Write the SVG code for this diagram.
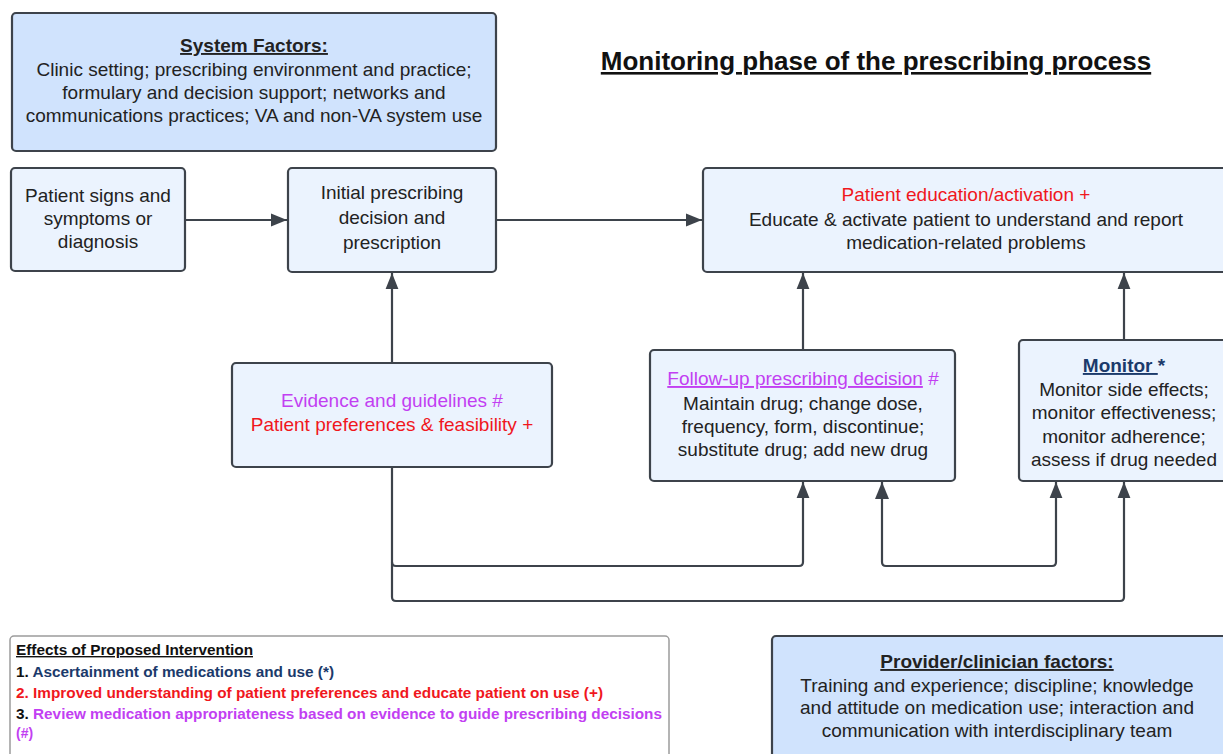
<svg xmlns="http://www.w3.org/2000/svg" width="1223" height="754" viewBox="0 0 1223 754">
<defs>
<style>
.t{font-family:"Liberation Sans",Arial,sans-serif;font-size:19px;fill:#222;text-anchor:middle}
.b{font-weight:bold}
.u{text-decoration:underline}
.red{fill:#f0171d}
.pur{fill:#c23ff2}
.navy{fill:#1b3a6b}
.node{fill:#ebf3fe;stroke:#3d434b;stroke-width:2.2}
.fac{fill:#d0e3fd;stroke:#3d434b;stroke-width:2.2}
.conn{fill:none;stroke:#3d434b;stroke-width:2.2;stroke-linejoin:round}
.leg{font-family:"Liberation Sans",Arial,sans-serif;font-size:14px;font-weight:bold}
</style>
<marker id="ahL" viewBox="0 0 10 10" refX="10" refY="5" markerWidth="16" markerHeight="16" markerUnits="userSpaceOnUse" orient="auto">
<path d="M0,1 L10,5 L0,9 z" fill="#3d434b"/>
</marker>
</defs>
<rect width="1223" height="754" fill="#fff"/>

<text x="876" y="70" class="t b u" style="font-size:26px;fill:#111">Monitoring phase of the prescribing process</text>

<g id="connectors">
<path class="conn" d="M185,220 H287" marker-end="url(#ahL)"/>
<path class="conn" d="M496,220 H702" marker-end="url(#ahL)"/>
<path class="conn" d="M392,363 V273" marker-end="url(#ahL)"/>
<path class="conn" d="M803,350 V273" marker-end="url(#ahL)"/>
<path class="conn" d="M1124,340 V273" marker-end="url(#ahL)"/>
<path class="conn" d="M392,467 V562 Q392,566 396,566 H799 Q803,566 803,562 V482" marker-end="url(#ahL)"/>
<path class="conn" d="M392,562 V597 Q392,601 396,601 H1120 Q1124,601 1124,597 V482" marker-end="url(#ahL)"/>
<path class="conn" d="M882,482 V562 Q882,566 886,566 H1052 Q1056,566 1056,562 V482" marker-end="url(#ahL)"/>
<path d="M875,499 L882,482 L889,499 z" fill="#3d434b"/>
</g>

<g id="system-factors">
<rect class="fac" x="12" y="13" width="484" height="138" rx="4"/>
<text x="254" y="52" class="t b u">System Factors:</text>
<text x="254" y="76" class="t">Clinic setting; prescribing environment and practice;</text>
<text x="254" y="99" class="t">formulary and decision support; networks and</text>
<text x="254" y="122" class="t">communications practices; VA and non-VA system use</text>
</g>

<g id="patient-signs">
<rect class="node" x="11" y="168" width="174" height="103" rx="4"/>
<text x="98" y="202" class="t">Patient signs and</text>
<text x="98" y="225" class="t">symptoms or</text>
<text x="98" y="248" class="t">diagnosis</text>
</g>

<g id="initial-prescribing">
<rect class="node" x="288" y="168" width="208" height="104" rx="4"/>
<text x="392" y="199" class="t">Initial prescribing</text>
<text x="392" y="224" class="t">decision and</text>
<text x="392" y="249" class="t">prescription</text>
</g>

<g id="patient-education">
<rect class="node" x="703" y="168" width="530" height="104" rx="4"/>
<text x="966" y="201" class="t red">Patient education/activation +</text>
<text x="966" y="226" class="t">Educate &amp; activate patient to understand and report</text>
<text x="966" y="249" class="t">medication-related problems</text>
</g>

<g id="evidence">
<rect class="node" x="232" y="363" width="320" height="104" rx="4"/>
<text x="392" y="407" class="t pur">Evidence and guidelines #</text>
<text x="392" y="431" class="t red">Patient preferences &amp; feasibility +</text>
</g>

<g id="follow-up">
<rect class="node" x="650" y="350" width="305" height="131" rx="4"/>
<text x="803" y="385" class="t"><tspan class="pur u">Follow-up prescribing decision</tspan><tspan class="pur"> #</tspan></text>
<text x="803" y="410" class="t">Maintain drug; change dose,</text>
<text x="803" y="433" class="t">frequency, form, discontinue;</text>
<text x="803" y="456" class="t">substitute drug; add new drug</text>
</g>

<g id="monitor">
<rect class="node" x="1019" y="340" width="214" height="141" rx="4"/>
<text x="1124" y="372" class="t"><tspan class="b u navy">Monitor </tspan><tspan class="b navy">*</tspan></text>
<text x="1124" y="396" class="t">Monitor side effects;</text>
<text x="1124" y="419" class="t">monitor effectiveness;</text>
<text x="1124" y="443" class="t">monitor adherence;</text>
<text x="1124" y="466" class="t">assess if drug needed</text>
</g>

<g id="effects-legend">
<rect x="10" y="636" width="659" height="130" rx="4" fill="#fff" stroke="#9c9c9c" stroke-width="1.5"/>
<text x="16" y="655" class="leg u" textLength="237" lengthAdjust="spacingAndGlyphs" fill="#111">Effects of Proposed Intervention</text>
<text x="16" y="677" class="leg" textLength="318" lengthAdjust="spacingAndGlyphs"><tspan fill="#111">1. </tspan><tspan fill="#1b3a6b">Ascertainment of medications and use (*)</tspan></text>
<text x="16" y="698" class="leg" textLength="587" lengthAdjust="spacingAndGlyphs" fill="#f0171d">2. Improved understanding of patient preferences and educate patient on use (+)</text>
<text x="16" y="719" class="leg" textLength="646" lengthAdjust="spacingAndGlyphs"><tspan fill="#111">3. </tspan><tspan fill="#c23ff2">Review medication appropriateness based on evidence to guide prescribing decisions</tspan></text>
<text x="16" y="738" class="leg" fill="#c23ff2">(#)</text>
</g>

<g id="provider-factors">
<rect class="fac" x="772" y="636" width="461" height="130" rx="4"/>
<text x="997" y="668" class="t b u">Provider/clinician factors:</text>
<text x="997" y="692" class="t">Training and experience; discipline; knowledge</text>
<text x="997" y="714" class="t">and attitude on medication use; interaction and</text>
<text x="997" y="737" class="t">communication with interdisciplinary team</text>
</g>
</svg>
